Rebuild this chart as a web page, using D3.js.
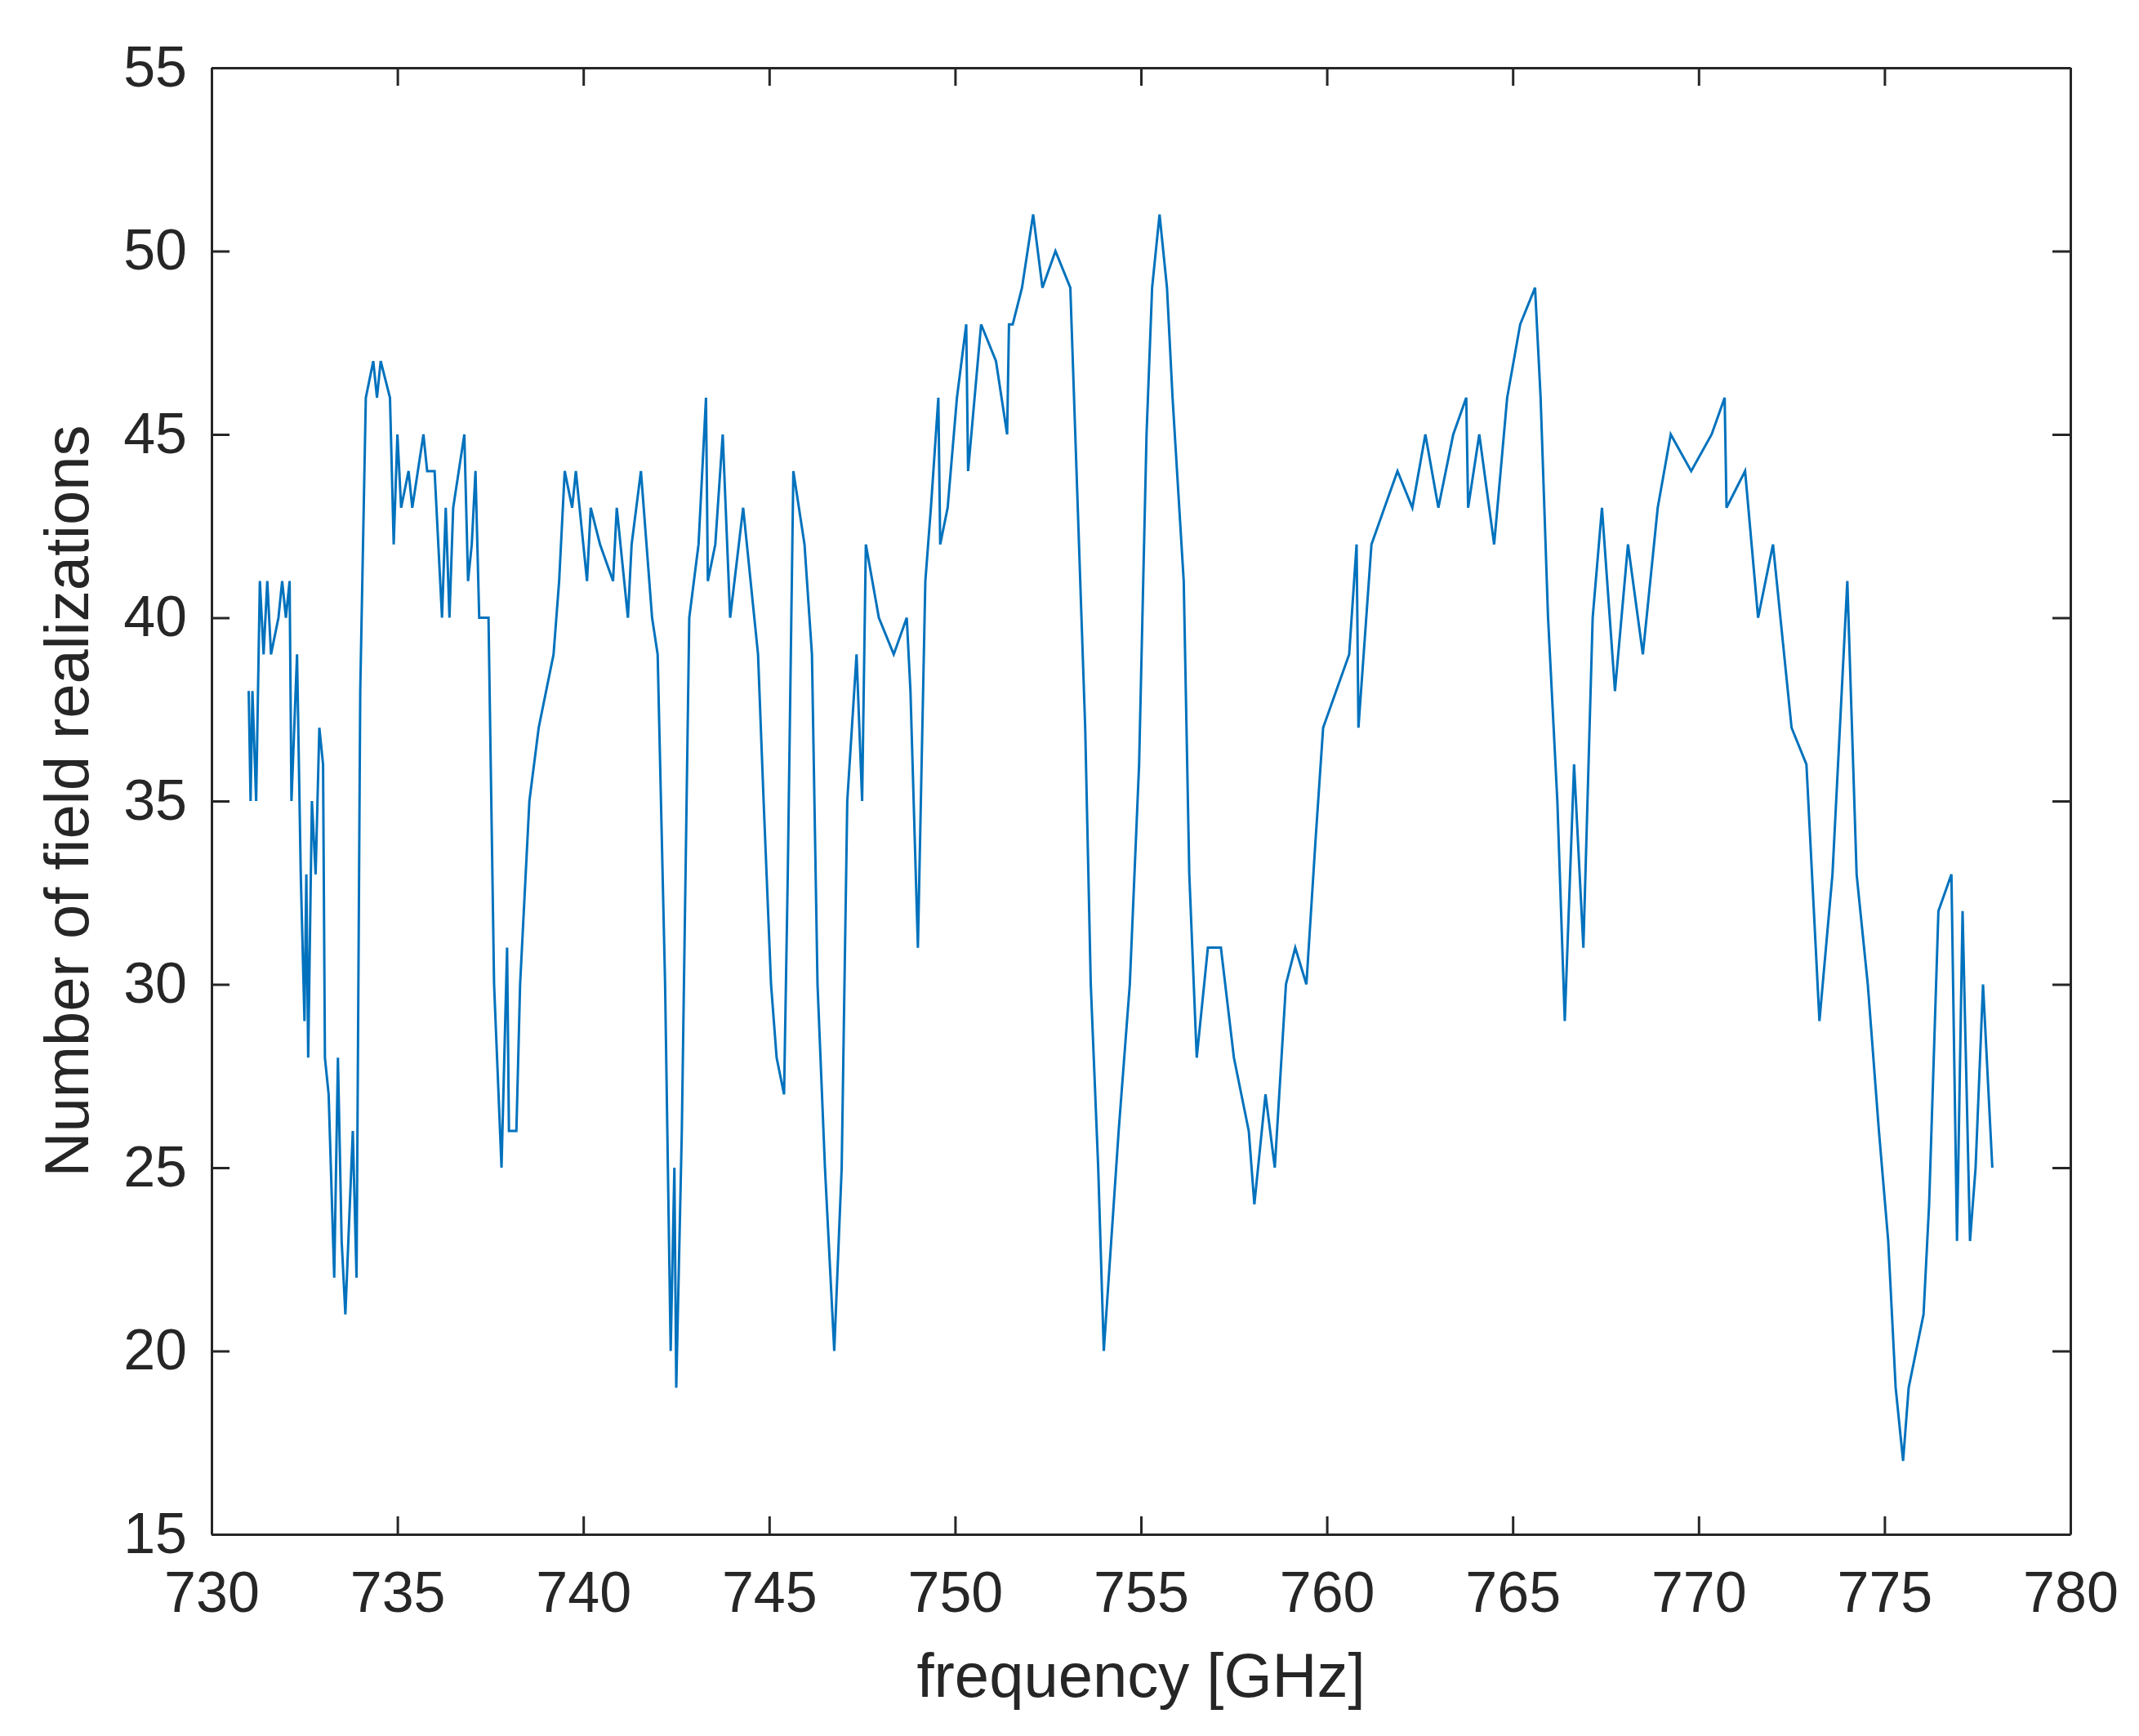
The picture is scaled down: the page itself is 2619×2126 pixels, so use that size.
<!DOCTYPE html>
<html>
<head>
<meta charset="utf-8">
<script src="https://d3js.org/d3.v7.min.js"></script>
<style>
body { margin: 0; background: #fff; }
text { font-family: "Liberation Sans", Arial, sans-serif; fill: #262626; }
</style>
</head>
<body>
<svg id="chart" width="2619" height="2126"></svg>
<script>
// frequency [GHz] and number of field realizations
var freq = [731.0,731.05,731.1,731.2,731.3,731.4,731.5,731.6,731.8,731.9,732.0,732.1,732.15,732.3,732.4,732.5,732.55,732.6,732.7,732.8,732.9,733.0,733.05,733.15,733.3,733.4,733.5,733.6,733.8,733.9,734.0,734.15,734.35,734.45,734.55,734.8,734.9,735.0,735.1,735.3,735.4,735.7,735.8,736.0,736.1,736.2,736.3,736.4,736.5,736.8,736.9,737.0,737.1,737.2,737.45,737.6,737.8,737.95,738.0,738.2,738.3,738.55,738.8,739.0,739.2,739.35,739.5,739.7,739.8,740.1,740.2,740.45,740.8,740.9,741.2,741.3,741.55,741.85,742.0,742.2,742.35,742.45,742.5,742.65,742.85,743.1,743.3,743.35,743.55,743.75,743.95,744.3,744.7,744.85,745.05,745.2,745.4,745.5,745.65,745.95,746.15,746.3,746.5,746.75,746.95,747.1,747.35,747.5,747.6,747.95,748.35,748.7,748.8,749.0,749.2,749.35,749.55,749.6,749.8,750.05,750.3,750.35,750.7,751.1,751.4,751.45,751.55,751.8,752.1,752.35,752.7,753.1,753.3,753.5,753.65,753.85,754.0,754.2,754.4,754.7,754.95,755.15,755.3,755.5,755.7,755.85,756.15,756.3,756.5,756.8,757.15,757.5,757.9,758.05,758.35,758.6,758.9,759.15,759.45,759.7,759.9,760.25,760.6,760.8,760.85,761.2,761.55,761.9,762.3,762.65,763.0,763.4,763.75,763.8,764.1,764.5,764.85,765.2,765.6,765.75,765.95,766.2,766.4,766.65,766.9,767.15,767.4,767.75,768.1,768.5,768.9,769.25,769.8,770.35,770.7,770.75,771.25,771.6,772.0,772.5,772.9,773.25,773.6,774.0,774.25,774.55,774.85,775.1,775.3,775.5,775.65,776.05,776.2,776.45,776.8,776.95,777.1,777.3,777.45,777.65,777.9];
var count = [38,35,38,35,41,39,41,39,40,41,40,41,35,39,33,29,33,28,35,33,37,36,28,27,22,28,23,21,26,22,38,46,47,46,47,46,42,45,43,44,43,45,44,44,42,40,43,40,43,45,41,42,44,40,40,30,25,31,26,26,30,35,37,38,39,41,44,43,44,41,43,42,41,43,40,42,44,40,39,30,20,25,19,26,40,42,46,41,42,45,40,43,39,35,30,28,27,33,44,42,39,30,25,20,25,35,39,35,42,40,39,40,38,31,41,43,46,42,43,46,48,44,48,47,45,48,48,49,51,49,50,49,43,37,30,25,20,23,26,30,36,45,49,51,49,46,41,33,28,31,31,28,26,24,27,25,30,31,30,34,37,38,39,42,37,42,43,44,43,45,43,45,46,43,45,42,46,48,49,46,40,35,29,36,31,40,43,38,42,39,43,45,44,45,46,43,44,40,42,37,36,29,33,41,33,30,26,23,19,17,19,21,24,32,33,23,32,23,25,30,25];
var xTicks = [730,735,740,745,750,755,760,765,770,775,780];
var yTicks = [15,20,25,30,35,40,45,50,55];

var svg = d3.select('#chart');
var mLeft = 259, mRight = 2535, mTop = 83, mBottom = 1879;
var x = d3.scaleLinear().domain([730, 780]).range([mLeft, mRight]);
var y = d3.scaleLinear().domain([15, 55]).range([mBottom, mTop]);
var tk = 22;

function styleAxis(g) {
  g.selectAll('path').attr('stroke', '#262626').attr('stroke-width', 3);
  g.selectAll('line').attr('stroke', '#262626').attr('stroke-width', 3);
  g.selectAll('text').attr('font-size', 70);
}

svg.append('g').attr('transform', 'translate(0,' + mBottom + ')')
  .call(d3.axisBottom(x).tickValues(xTicks).tickSize(-tk).tickPadding(45).tickSizeOuter(0))
  .call(styleAxis);
svg.append('g').attr('transform', 'translate(0,' + mTop + ')')
  .call(d3.axisTop(x).tickValues(xTicks).tickSize(-tk).tickFormat('').tickSizeOuter(0))
  .call(styleAxis);
svg.append('g').attr('transform', 'translate(' + mLeft + ',0)')
  .call(d3.axisLeft(y).tickValues(yTicks).tickSize(-tk).tickPadding(30).tickSizeOuter(0))
  .call(styleAxis);
svg.append('g').attr('transform', 'translate(' + mRight + ',0)')
  .call(d3.axisRight(y).tickValues(yTicks).tickSize(-tk).tickFormat('').tickSizeOuter(0))
  .call(styleAxis);

var pts = freq.map(function(f, i) { return [f, count[i]]; });
svg.append('path')
  .datum(pts)
  .attr('fill', 'none')
  .attr('stroke', '#0072BD')
  .attr('stroke-width', 3)
  .attr('d', d3.line()
    .x(function(d) { return x(d[0]); })
    .y(function(d) { return y(d[1]); }));

svg.append('text').attr('x', (mLeft + mRight) / 2).attr('y', 2078)
  .attr('text-anchor', 'middle').attr('font-size', 76).text('frequency [GHz]');
svg.append('text')
  .attr('transform', 'translate(108,' + (mTop + mBottom) / 2 + ') rotate(-90)')
  .attr('text-anchor', 'middle').attr('font-size', 76).text('Number of field realizations');
</script>
</body>
</html>
